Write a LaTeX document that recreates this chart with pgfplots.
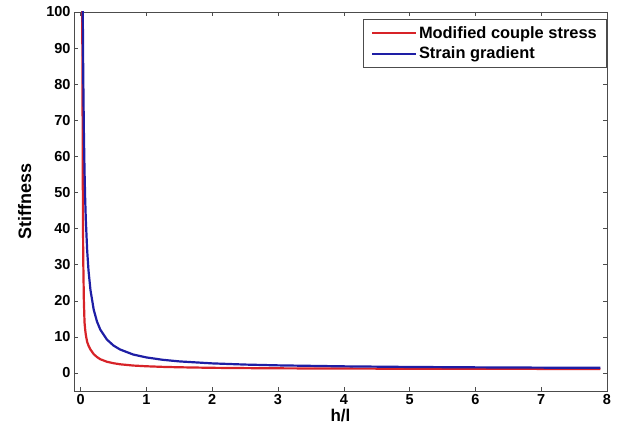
\documentclass[border=0pt]{standalone}
\usepackage{pgfplots}
\pgfplotsset{compat=1.18}
\usepackage{fontspec}
\setmainfont{Liberation Sans}
\definecolor{myred}{RGB}{215,35,40}
\definecolor{myblue}{RGB}{30,30,165}
\begin{document}
\begin{tikzpicture}
\begin{axis}[
  scale only axis,
  width=533pt, height=379pt,
  at={(0pt,0pt)}, anchor=south west,
  xmin=-0.1, xmax=8, ymin=-5, ymax=100,
  xtick={0,1,...,8}, ytick={0,10,...,100},
  tick align=inside, tick pos=both,
  major tick length=4pt,
  axis line style={draw=black!70, line width=0.6pt},
  every tick/.style={draw=black!70, line width=0.5pt},
  /pgf/number format/assume math mode=true,
  ticklabel style={font=\fontsize{14.5}{16}\selectfont\bfseries},
  xlabel={h/l}, ylabel={Stiffness},
  xlabel style={font=\fontsize{17}{19}\selectfont\bfseries, yshift=3pt},
  ylabel style={font=\fontsize{18}{20}\selectfont\bfseries, yshift=8pt},
  legend style={at={(1,0.981)}, anchor=north east, draw=black!70, line width=0.5pt,
    font=\fontsize{16.4}{18}\selectfont\bfseries, inner xsep=8pt, inner ysep=5pt, row sep=3pt,
    legend cell align=left, /tikz/every even column/.append style={column sep=5pt}},
  legend image code/.code={\draw[#1, line width=2pt] (0pt,0pt) -- (44pt,0pt);},
  clip=true,
]
\addplot[myred, line width=2.2pt] coordinates {
(0.025,101) (0.03,75) (0.035,48) (0.04,32) (0.05,20) (0.06,14) (0.07,12) (0.08,10.5)
(0.1,8.6) (0.12,7.6) (0.15,6.5) (0.2,5.2) (0.25,4.4) (0.3,3.8) (0.4,3.1) (0.5,2.7)
(0.6,2.4) (0.8,2.05) (1,1.85) (1.25,1.68) (1.5,1.57) (2,1.42) (2.5,1.34) (3,1.28)
(4,1.21) (5,1.17) (6,1.14) (7,1.12) (7.9,1.11)
};
\addlegendentry{Modified couple stress\hspace{9pt}}
\addplot[myblue, line width=2.2pt] coordinates {
(0.033,101) (0.04,83.5) (0.05,67) (0.06,56) (0.07,48.1) (0.08,42.3) (0.1,34)
(0.12,28.5) (0.15,23) (0.2,17.5) (0.25,14.2) (0.3,12) (0.4,9.25) (0.5,7.6) (0.6,6.5)
(0.8,5.1) (1,4.3) (1.25,3.64) (1.5,3.2) (2,2.65) (2.5,2.32) (3,2.1) (4,1.83)
(5,1.66) (6,1.55) (7,1.47) (7.9,1.42)
};
\addlegendentry{Strain gradient}
\end{axis}
\path (-74pt,-50pt) rectangle (548pt,391pt);
\end{tikzpicture}
\end{document}
